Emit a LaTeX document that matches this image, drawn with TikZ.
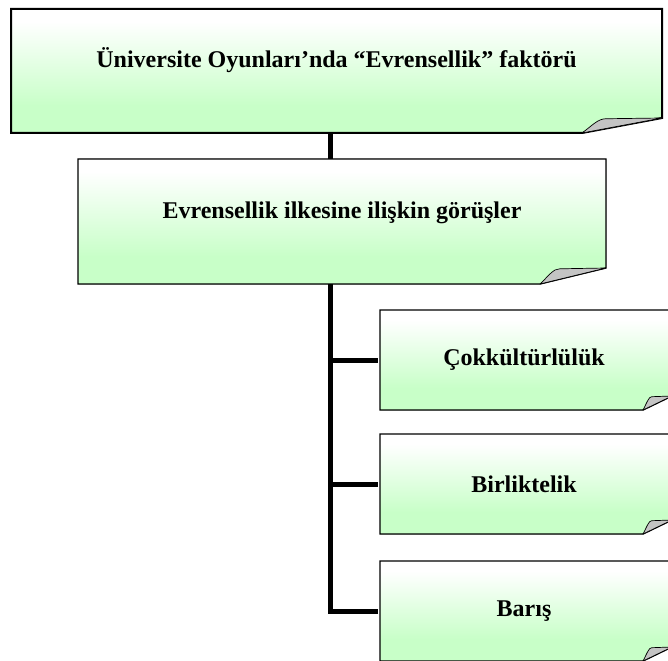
\documentclass[tikz,border=0pt]{standalone}
\usepackage{fontspec}
\setmainfont{Liberation Serif}
\definecolor{boxgreen}{HTML}{C8FFC8}
\definecolor{flapgray}{HTML}{C4C4C4}
\pgfdeclareverticalshading{docshade}{100bp}{color(0bp)=(boxgreen); color(25bp)=(boxgreen); color(36bp)=(boxgreen); color(70bp)=(white); color(100bp)=(white)}
\newcommand\docbox[7]{%
  \filldraw[line width=#7, draw=black, shading=docshade]
    (#1,#2) -- (#3,#2) -- (#3,{#4-#6}) -- ({#3-#5},#4) -- (#1,#4) -- cycle;
  \filldraw[line width=0.7pt, fill=flapgray, line join=round]
    ({#3-#5},#4) .. controls ({#3-0.86*#5},{#4-0.55*#6}) and ({#3-0.8*#5},{#4-0.95*#6}) .. ({#3-0.7*#5},{#4-0.95*#6})
    -- (#3,{#4-#6}) -- cycle;
}
\tikzset{
  boxtext/.style={inner sep=0pt, font=\bfseries\fontsize{24}{28}\selectfont, align=center},
  conn/.style={line width=5pt, draw=black}
}
\begin{document}
\begin{tikzpicture}[x=1pt,y=-1pt]
\useasboundingbox (0,0) rectangle (668,660);
\docbox{11}{9}{662}{133}{80}{15}{2pt}
\docbox{78}{159}{606}{284}{66}{16}{1.4pt}
\docbox{380}{310}{672}{410}{29}{14}{1.4pt}
\docbox{380}{434}{672}{534}{29}{14}{1.4pt}
\docbox{380}{561}{672}{661}{29}{14}{1.4pt}
\node[boxtext, minimum width=651pt, minimum height=124pt] (b1) at (336.5,71)
  {\raisebox{11pt}[\height][\depth]{Üniversite Oyunları’nda “Evrensellik” faktörü}};
\node[boxtext, minimum width=528pt, minimum height=125pt] (b2) at (342,221.5)
  {\raisebox{9pt}[\height][\depth]{Evrensellik ilkesine ilişkin görüşler}};
\node[boxtext, minimum width=292pt, minimum height=100pt] (b3) at (524,360) {Çokkültürlülük};
\node[boxtext, minimum width=292pt, minimum height=100pt] (b4) at (524,484) {Birliktelik};
\node[boxtext, minimum width=292pt, minimum height=100pt] (b5) at (524,611) {Barış};
\coordinate (spine) at (330,0);
\draw[conn] (b1.south -| spine) -- (b2.north -| spine);
\draw[conn] (b2.south -| spine) |- (b5.west);
\draw[conn] (spine |- b3.west) -- (b3.west);
\draw[conn] (spine |- b4.west) -- (b4.west);
\end{tikzpicture}
\end{document}
